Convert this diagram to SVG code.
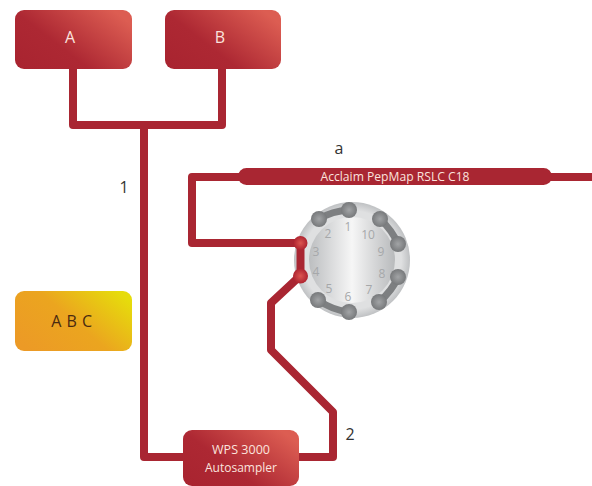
<svg xmlns="http://www.w3.org/2000/svg" width="592" height="486" viewBox="0 0 592 486">
<defs>
<linearGradient id="red" x1="0" y1="0.9" x2="1" y2="0.25"><stop offset="0" stop-color="#a92430"/><stop offset="0.4" stop-color="#ad2833"/><stop offset="1" stop-color="#dc5d52"/></linearGradient>
<linearGradient id="yel" x1="0" y1="0.8" x2="1" y2="0.2"><stop offset="0" stop-color="#ec9a26"/><stop offset="0.5" stop-color="#eba51f"/><stop offset="1" stop-color="#e6dc0c"/></linearGradient>
<linearGradient id="disc" x1="0" y1="0" x2="1" y2="0"><stop offset="0" stop-color="#bcbec0"/><stop offset="0.5" stop-color="#f6f6f6"/><stop offset="1" stop-color="#b8babc"/></linearGradient>
<radialGradient id="ring" cx="0.5" cy="0.5" r="0.5"><stop offset="0.85" stop-color="#dfe0e1"/><stop offset="1" stop-color="#bfc1c3"/></radialGradient>
<radialGradient id="port" cx="0.5" cy="0.5" r="0.5"><stop offset="0" stop-color="#a2a4a6"/><stop offset="1" stop-color="#77797b"/></radialGradient>
<radialGradient id="dot" cx="0.5" cy="0.5" r="0.5"><stop offset="0" stop-color="#dc5550"/><stop offset="1" stop-color="#ae2430"/></radialGradient>
</defs>
<style>
.c{fill:none;stroke:#a92632;stroke-width:8;stroke-linejoin:round}
.w{font-family:"Open Sans","Liberation Sans",sans-serif;fill:#fbe3de;text-anchor:middle}
.k{font-family:"Open Sans","Liberation Sans",sans-serif;fill:#333;text-anchor:middle}
.n{font-family:"Open Sans","Liberation Sans",sans-serif;fill:#a6a8aa;font-size:12px;text-anchor:middle}
.g{fill:none;stroke:#7d7f81;stroke-width:7}
.p{fill:url(#port)}
</style>
<g id="connectors">
<path class="c" d="M73 69V125H222V69"/>
<path class="c" d="M144 125V457H183"/>
<path class="c" d="M299 457H333V412L271 350V303L300 276"/>
<path class="c" d="M300 243H192V177H592"/>
</g>
<g id="node-a"><rect x="15" y="10" width="117" height="59" rx="9" fill="url(#red)"/><text class="w" x="70" y="43" font-size="16">A</text></g>
<g id="node-b"><rect x="165" y="10" width="116" height="59" rx="9" fill="url(#red)"/><text class="w" x="220" y="43" font-size="16">B</text></g>
<g id="node-abc"><rect x="15" y="291" width="117" height="60" rx="9" fill="url(#yel)"/><text x="72" y="327" font-family="Open Sans,Liberation Sans,sans-serif" font-size="16" letter-spacing="0.500" fill="#4a2a10" text-anchor="middle">A B C</text></g>
<g id="node-wps"><rect x="183" y="430" width="116" height="56" rx="9" fill="url(#red)"/><text class="w" x="241" y="454" font-size="12.500" textLength="58" lengthAdjust="spacingAndGlyphs">WPS 3000</text><text class="w" x="241" y="472" font-size="12.500" textLength="72" lengthAdjust="spacingAndGlyphs">Autosampler</text></g>
<g id="node-column"><rect x="238" y="168" width="314" height="17" rx="8.500" fill="#a92632"/><text class="w" x="395" y="181" font-size="12" textLength="149" lengthAdjust="spacingAndGlyphs">Acclaim PepMap RSLC C18</text></g>
<g id="node-valve">
<circle cx="352" cy="260" r="58" fill="url(#ring)"/>
<circle cx="352" cy="260" r="43" fill="url(#disc)"/>
<path class="g" d="M319 219Q332 211 349 210"/><path class="g" d="M380 219Q392 230 398 244"/><path class="g" d="M398 277Q392 291 379 302"/><path class="g" d="M349 312Q332 310 318 300"/>
<circle class="p" cx="319" cy="219" r="8"/><circle class="p" cx="349" cy="210" r="8"/><circle class="p" cx="380" cy="219" r="8"/><circle class="p" cx="398" cy="244" r="8"/><circle class="p" cx="398" cy="277" r="8"/><circle class="p" cx="379" cy="302" r="8"/><circle class="p" cx="349" cy="312" r="8"/><circle class="p" cx="318" cy="300" r="8"/>
<text class="n" x="348" y="231">1</text><text class="n" x="328" y="238">2</text><text class="n" x="316" y="256">3</text><text class="n" x="316" y="276">4</text><text class="n" x="329" y="293">5</text><text class="n" x="348" y="301">6</text><text class="n" x="369" y="294">7</text><text class="n" x="382" y="278">8</text><text class="n" x="381" y="256">9</text><text class="n" x="368" y="239">10</text>
<path class="c" d="M300.500 243V276" stroke-width="6"/>
<circle cx="300.500" cy="243" r="7" fill="url(#dot)"/><circle cx="300.500" cy="276" r="7.500" fill="url(#dot)"/>
</g>
<g id="labels"><text class="k" x="124" y="193" font-size="16">1</text><text class="k" x="350" y="440" font-size="16">2</text><text class="k" x="339" y="154" font-size="16">a</text></g>
</svg>
